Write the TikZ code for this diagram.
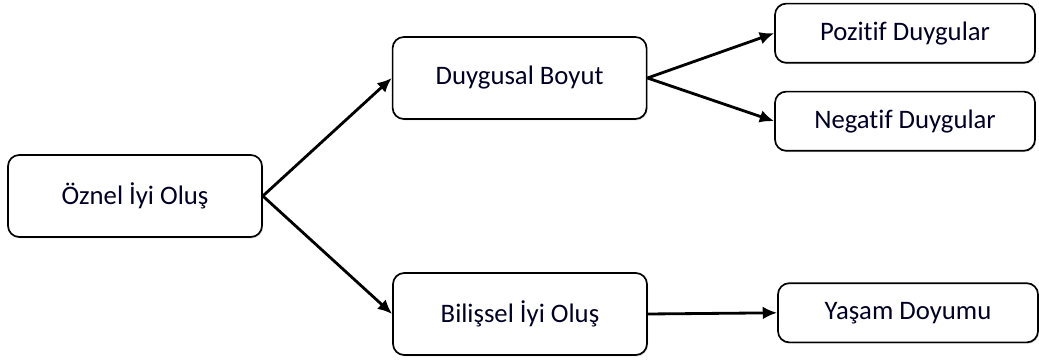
\documentclass[tikz,border=0pt]{standalone}
\usepackage{fontspec}
\setmainfont{Carlito}[Ligatures=NoCommon]
\usetikzlibrary{arrows.meta,shadows}

\tikzset{
  kutu/.style={draw, rounded corners=8pt, line width=1.2pt, fill=white,
    drop shadow={opacity=0.25, shadow xshift=0.8pt, shadow yshift=-1pt},
    font=\fontsize{19}{22}\selectfont, text=black!85!blue},
  buyukkutu/.style={kutu, minimum width=6.35cm, minimum height=2.05cm},
  kucukkutu/.style={kutu, minimum width=6.5cm, minimum height=1.48cm},
  ok/.style={->, line width=2pt},
}

\begin{document}
\begin{tikzpicture}[>={Latex[length=3.6mm,width=3.2mm]}]
        \useasboundingbox (0,0) rectangle (25.975,9);

        \node [buyukkutu] (oznel) at (3.375,4.1) {Öznel İyi Oluş};
        \node [buyukkutu] (duygusal) at (12.99,7.05) {Duygusal Boyut};
        \node [buyukkutu] (bilissel) at (13.0,1.15) {Bilişsel İyi Oluş};

        \node [kucukkutu] (pozitif) at (22.625,8.17) {Pozitif Duygular};
        \node [kucukkutu] (negatif) at (22.625,5.97) {Negatif Duygular};
        \node [kucukkutu] (yasam) at (22.7,1.18) {Yaşam Doyumu};

        \draw [ok] (oznel.east)--(duygusal.west);
        \draw [ok] (oznel.east)--(bilissel.west);
        \draw [ok] (duygusal.east)--(pozitif.west);
        \draw [ok] (duygusal.east)--(negatif.west);
        \draw [ok] (bilissel.east)--(yasam.west);
      \end{tikzpicture}
\end{document}
